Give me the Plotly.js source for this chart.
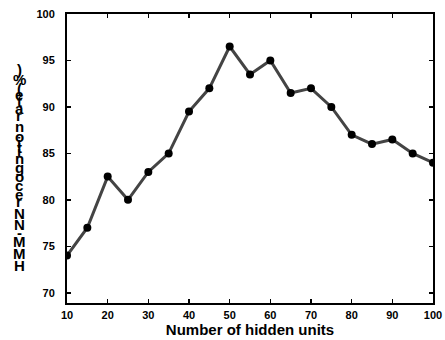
<!DOCTYPE html>
<html><head><meta charset="utf-8">
<script src="https://cdn.plot.ly/plotly-3.0.1.min.js"></script>
<style>body{margin:0;background:#fff}#chart{width:445px;height:340px}</style>
</head><body><div id="chart"></div>
<script>
const hiddenUnits = [10,15,20,25,30,35,40,45,50,55,60,65,70,75,80,85,90,95,100];
const recognitionRate = [74,77,82.5,80,83,85,89.5,92,96.5,93.5,95,91.5,92,90,87,86,86.5,85,84];
const xTicks = [10,20,30,40,50,60,70,80,90,100];
const yTicks = [70,75,80,85,90,95,100];
const xTitle = 'Number of hidden units';
const yTitle = 'HMM-NN recognition rate(%)';

const FONT = 'Arial, "Liberation Sans", sans-serif';
const L = 67, T = 14, R = 12, B = 37;

// y title rendered as stacked upright glyphs (as in the reference)
const cvs = document.createElement('canvas');
const ctx = cvs.getContext('2d');
const tSize = 15;
ctx.font = 'bold ' + tSize + 'px "Liberation Sans", Arial';
const annotations = [];
let widths = Array.from(yTitle).map(c => ctx.measureText(c).width);
const total = widths.reduce((a,b)=>a+b,0);
const centerPy = 169;
let cum = 0;
Array.from(yTitle).forEach((c,i) => {
  const w = widths[i];
  const py = centerPy + total/2 - (cum + w/2);
  cum += w;
  if (c === ' ') return;
  annotations.push({
    text: c, xref:'paper', yref:'paper', x:0, y:0,
    xanchor:'center', yanchor:'middle', showarrow:false,
    xshift: 19 - L, yshift: (340 - B) - py,
    font:{family:FONT, size:tSize, color:'#000', weight:'bold'}
  });
});

Plotly.newPlot('chart', [{
  x: hiddenUnits, y: recognitionRate, type:'scatter', mode:'lines+markers',
  line:{color:'#444444', width:3},
  marker:{color:'#000000', size:8}
}], {
  width:445, height:340,
  margin:{l:L, r:R, t:T, b:B},
  paper_bgcolor:'#fff', plot_bgcolor:'#fff',
  showlegend:false,
  font:{family:FONT, color:'#000'},
  xaxis:{
    range:[10,100], tickvals:xTicks, ticktext:xTicks.map(String),
    ticks:'inside', ticklen:4, tickwidth:1.5, tickcolor:'#000',
    showline:true, linecolor:'#000', linewidth:2, mirror:'ticks',
    showgrid:false, zeroline:false,
    tickfont:{family:FONT, size:11, color:'#000', weight:'bold'},
    ticklabelstandoff:1,
    title:{text:xTitle, font:{family:FONT, size:15, color:'#000', weight:'bold'}, standoff:3}
  },
  yaxis:{
    range:[68.9,100], tickvals:yTicks, ticktext:yTicks.map(String),
    ticks:'inside', ticklen:4, tickwidth:1.5, tickcolor:'#000',
    showline:true, linecolor:'#000', linewidth:2, mirror:'ticks',
    showgrid:false, zeroline:false,
    tickfont:{family:FONT, size:11, color:'#000', weight:'bold'},
    ticklabelstandoff:8
  },
  annotations: annotations
}, {staticPlot:true, displayModeBar:false});
</script></body></html>
